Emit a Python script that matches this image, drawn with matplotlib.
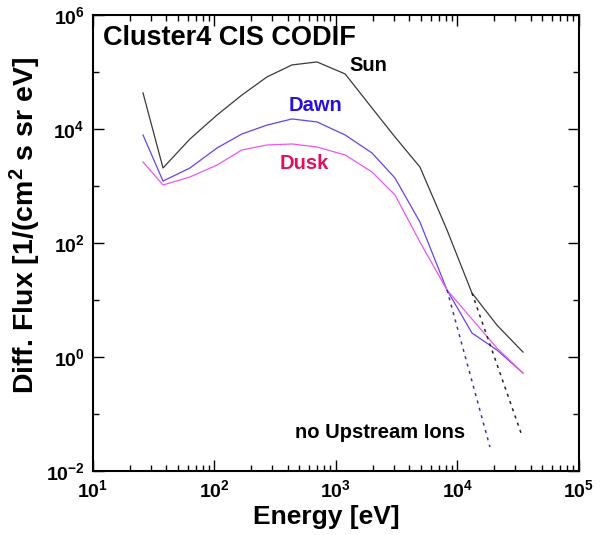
import matplotlib
matplotlib.use('Agg')
import matplotlib.pyplot as plt
from matplotlib import rcParams
from matplotlib.ticker import FixedLocator, NullFormatter

rcParams['font.family'] = ['Liberation Sans', 'DejaVu Sans']
rcParams['font.weight'] = 'bold'
rcParams['mathtext.fontset'] = 'custom'
rcParams['mathtext.rm'] = 'Liberation Sans:bold'
rcParams['mathtext.bf'] = 'Liberation Sans:bold'
rcParams['mathtext.it'] = 'Liberation Sans:bold'

# energy steps [eV]
energy = [25.8, 37.7, 62.8, 105, 168, 270, 434, 698, 1190, 1980,
          3060, 4910, 8200, 13150, 21100, 34600]

# differential flux [1/(cm^2 s sr eV)]
sun = [4.29e4, 2.07e3, 6.68e3, 1.76e4, 3.94e4, 8.17e4, 1.33e5, 1.50e5,
       9.23e4, 2.33e4, 7.24e3, 2.15e3, 169, 13.3, 3.64, 1.22]
dawn = [7.85e3, 1.22e3, 2.07e3, 4.65e3, 8.17e3, 1.17e4, 1.50e4, 1.33e4,
        7.85e3, 3.79e3, 1.38e3, 233, 15.0, 2.64, 1.33, 0.524]
dusk = [2.64e3, 1.04e3, 1.44e3, 2.33e3, 4.29e3, 5.24e3, 5.46e3, 4.83e3,
        3.50e3, 1.76e3, 695, 104, 15.0, 4.64, 1.44, 0.524]

# extrapolation without upstream ions
dawn_noup_e = [8200, 18500]
dawn_noup_f = [15.0, 0.0264]
sun_noup_e = [13150, 33300]
sun_noup_f = [13.3, 0.0468]

xticks = [1e1, 1e2, 1e3, 1e4, 1e5]
xlabels = [r'$\mathbf{10^{1}}$', r'$\mathbf{10^{2}}$', r'$\mathbf{10^{3}}$',
           r'$\mathbf{10^{4}}$', r'$\mathbf{10^{5}}$']
yticks = [1e-2, 1e0, 1e2, 1e4, 1e6]
ylabels = [r'$\mathbf{10^{-2}}$', r'$\mathbf{10^{0}}$', r'$\mathbf{10^{2}}$',
           r'$\mathbf{10^{4}}$', r'$\mathbf{10^{6}}$']

fig = plt.figure(figsize=(6.09, 5.35), dpi=100)
ax = fig.add_axes([0.1527, 0.1196, 0.798, 0.8524])

ax.plot(energy, sun, color='#3a3a3a', lw=0.9)
ax.plot(energy, dawn, color='#6a40f0', lw=0.9)
ax.plot(energy, dusk, color='#f055f0', lw=0.9)
ax.plot(dawn_noup_e, dawn_noup_f, color='#3030e0', lw=1.1, ls=(0, (2, 3)))
ax.plot(sun_noup_e, sun_noup_f, color='#222222', lw=1.1, ls=(0, (2, 3)))

ax.set_xscale('log')
ax.set_yscale('log')
ax.set_xlim(1e1, 1e5)
ax.set_ylim(1e-2, 1e6)

ax.xaxis.set_major_locator(FixedLocator(xticks))
ax.set_xticklabels(xlabels)
ax.xaxis.set_minor_locator(FixedLocator(
    [m * 10 ** d for d in range(1, 5) for m in range(2, 10)]))
ax.xaxis.set_minor_formatter(NullFormatter())
ax.yaxis.set_major_locator(FixedLocator(yticks))
ax.set_yticklabels(ylabels)
ax.yaxis.set_minor_locator(FixedLocator([1e-1, 1e1, 1e3, 1e5]))
ax.yaxis.set_minor_formatter(NullFormatter())

ax.tick_params(which='both', direction='in', top=True, right=True, width=1.0)
ax.tick_params(which='major', length=8, labelsize=14, pad=6)
ax.tick_params(which='minor', length=4)
for s in ax.spines.values():
    s.set_linewidth(1.5)

ax.set_xlabel('Energy [eV]', fontsize=19, fontweight='bold')
ax.xaxis.set_label_coords(0.481, -0.075)
ax.set_ylabel(r'Diff. Flux [1/(cm$^{\mathbf{2}}$ s sr eV]', fontsize=20.5,
              fontweight='bold')
ax.yaxis.set_label_coords(-0.103, 0.539)

ax.text(0.02, 0.95, 'Cluster4 CIS CODIF', transform=ax.transAxes,
        fontsize=19.5, fontweight='bold', va='center', ha='left')
ax.text(1.28e3, 1.3e5, 'Sun', fontsize=14.5, fontweight='bold',
        color='black', ha='left', va='center')
ax.text(6.8e2, 2.6e4, 'Dawn', fontsize=14.5, fontweight='bold',
        color='#2a10e0', ha='center', va='center')
ax.text(5.5e2, 2.5e3, 'Dusk', fontsize=14.5, fontweight='bold',
        color='#e0105e', ha='center', va='center')
ax.text(4.6e2, 0.047, 'no Upstream Ions', fontsize=14.5, fontweight='bold',
        color='black', ha='left', va='center')

fig.savefig('out.png', dpi=100)
